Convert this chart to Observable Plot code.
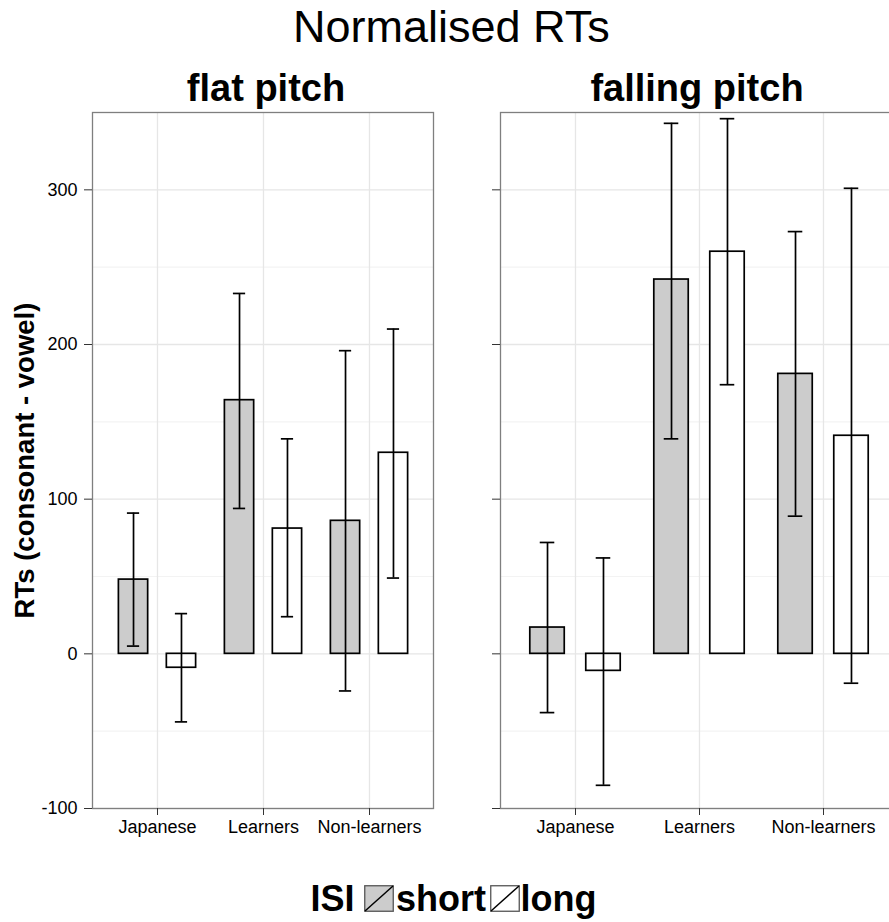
<!DOCTYPE html>
<html>
<head>
<meta charset="utf-8">
<script src="https://cdn.jsdelivr.net/npm/d3@7"></script>
<script src="https://cdn.jsdelivr.net/npm/@observablehq/plot@0.6"></script>
<style>
  html, body { margin: 0; padding: 0; overflow: hidden; background: #fff; }
  body { position: relative; width: 889px; height: 922px; font-family: "Liberation Sans", Arial, Helvetica, sans-serif; color: #000; }
  .abs { position: absolute; white-space: nowrap; }
  #title { top: 4.2px; left: 293px; font-size: 45px; line-height: 45px; }
  .facet { top: 68.8px; font-size: 38px; line-height: 38px; font-weight: bold; transform: translateX(-50%); }
  .leg { top: 880.5px; font-size: 36px; line-height: 36px; font-weight: bold; }
  #left { left: 0; top: 100px; }
  #right { left: 444px; top: 100px; }
</style>
</head>
<body>
<div id="title" class="abs">Normalised RTs</div>
<div id="left" class="abs"></div>
<div id="right" class="abs"></div>
<div id="facet1" class="abs facet" style="left:266px"></div>
<div id="facet2" class="abs facet" style="left:697px"></div>
<div id="legend"></div>
<script>
// ---- data ----
const groups = ["Japanese", "Learners", "Non-learners"];
const panelTitles = ["flat pitch", "falling pitch"];
const isiLevels = ["short", "long"];
const isiFill = ["#cccccc", "#ffffff"];
const legendTitle = "ISI";
const yTitle = "RTs (consonant - vowel)";

const flatShortMean  = [48, 164, 86];
const flatShortLower = [5, 94, -24];
const flatShortUpper = [91, 233, 196];
const flatLongMean   = [-9, 81, 130];
const flatLongLower  = [-44, 24, 49];
const flatLongUpper  = [26, 139, 210];

const fallShortMean  = [17, 242, 181];
const fallShortLower = [-38, 139, 89];
const fallShortUpper = [72, 343, 273];
const fallLongMean   = [-11, 260, 141];
const fallLongLower  = [-85, 174, -19];
const fallLongUpper  = [62, 346, 301];

const yTicks = [-100, 0, 100, 200, 300];
const yMinorTicks = [-50, 50, 150, 250];
const yDomain = [-100, 350];

function rows(mean, lower, upper, isi) {
  return groups.map((g, i) => ({group: g, isi, mean: mean[i], lower: lower[i], upper: upper[i]}));
}

const flatData = [
  rows(flatShortMean, flatShortLower, flatShortUpper, isiLevels[0]),
  rows(flatLongMean, flatLongLower, flatLongUpper, isiLevels[1])
];
const fallData = [
  rows(fallShortMean, fallShortLower, fallShortUpper, isiLevels[0]),
  rows(fallLongMean, fallLongLower, fallLongUpper, isiLevels[1])
];

const FONT = "'Liberation Sans', Arial, Helvetica, sans-serif";

function panel(data, {width, marginLeft, marginRight, labels}) {
  const height = 745, marginTop = 12, marginBottom = 37;
  const step = (width - marginLeft - marginRight) / 3.2;
  const off = [-0.225, 0.225], bw = 0.28, cap = 0.12;
  const marks = [
    Plot.gridY(yMinorTicks, {stroke: "#f3f3f3", strokeOpacity: 1, strokeWidth: 1.2}),
    Plot.gridY(yTicks, {stroke: "#e6e6e6", strokeOpacity: 1, strokeWidth: 1.3}),
    Plot.gridX(groups, {stroke: "#e6e6e6", strokeOpacity: 1, strokeWidth: 1.3})
  ];
  data.forEach((d, k) => {
    const o = off[k];
    marks.push(Plot.barY(d, {
      x: "group", y1: 0, y2: "mean", fill: isiFill[k], stroke: "#000", strokeWidth: 1.7,
      insetLeft: (0.5 + o - bw / 2) * step, insetRight: (0.5 - o - bw / 2) * step
    }));
  });
  data.forEach((d, k) => {
    const o = off[k];
    marks.push(Plot.ruleX(d, {x: "group", y1: "lower", y2: "upper", dx: o * step, stroke: "#000", strokeWidth: 1.7}));
    marks.push(Plot.tickY(d, {x: "group", y: "upper", stroke: "#000", strokeWidth: 1.7,
      insetLeft: (0.5 + o - cap / 2) * step, insetRight: (0.5 - o - cap / 2) * step}));
    marks.push(Plot.tickY(d, {x: "group", y: "lower", stroke: "#000", strokeWidth: 1.7,
      insetLeft: (0.5 + o - cap / 2) * step, insetRight: (0.5 - o - cap / 2) * step}));
  });
  marks.push(Plot.frame({stroke: "#7f7f7f", strokeWidth: 1.3}));
  if (labels) {
    marks.push(Plot.axisY(yTicks, {tickSize: 8, tickPadding: 7, fontSize: 18, stroke: "#333", fill: "#000", tickFormat: d => String(d)}));
    marks.push(Plot.text([yTitle], {frameAnchor: "left", textAnchor: "middle", rotate: -90, dx: -67, fontSize: 27.5, fontWeight: "bold", fill: "#000"}));
  } else {
    marks.push(Plot.axisY(yTicks, {tickSize: 8, stroke: "#333", tickFormat: () => ""}));
  }
  marks.push(Plot.axisX({tickSize: 7, tickPadding: 5, fontSize: 18, stroke: "#333", fill: "#000"}));
  return Plot.plot({
    width, height, marginLeft, marginRight, marginTop, marginBottom,
    style: {fontFamily: FONT, fontSize: "18px", color: "#000", background: "white", overflow: "visible", maxWidth: "none"},
    x: {type: "band", domain: groups, paddingInner: 0, paddingOuter: 0.1, label: null},
    y: {domain: yDomain, label: null},
    marks
  });
}

document.getElementById("left").appendChild(panel(flatData, {width: 444, marginLeft: 92, marginRight: 11, labels: true}));
document.getElementById("right").appendChild(panel(fallData, {width: 454, marginLeft: 56, marginRight: 0, labels: false}));
document.getElementById("facet1").textContent = panelTitles[0];
document.getElementById("facet2").textContent = panelTitles[1];

// ---- legend ----
const legend = document.getElementById("legend");
function addText(txt, left) {
  const s = document.createElement("div");
  s.className = "abs leg";
  s.style.left = left + "px";
  s.textContent = txt;
  legend.appendChild(s);
}
function addKey(fill, left) {
  const ns = "http://www.w3.org/2000/svg";
  const svg = document.createElementNS(ns, "svg");
  svg.setAttribute("width", 30); svg.setAttribute("height", 27);
  svg.setAttribute("class", "abs");
  svg.style.left = left + "px"; svg.style.top = "885px";
  const r = document.createElementNS(ns, "rect");
  r.setAttribute("x", 0.75); r.setAttribute("y", 0.75); r.setAttribute("width", 28.5); r.setAttribute("height", 25.5);
  r.setAttribute("fill", fill); r.setAttribute("stroke", "#555"); r.setAttribute("stroke-width", 1.3);
  const l = document.createElementNS(ns, "line");
  l.setAttribute("x1", 1); l.setAttribute("y1", 26); l.setAttribute("x2", 29); l.setAttribute("y2", 1);
  l.setAttribute("stroke", "#000"); l.setAttribute("stroke-width", 1.5);
  svg.appendChild(r); svg.appendChild(l);
  legend.appendChild(svg);
}
addText(legendTitle, 310.5);
addKey(isiFill[0], 363.5);
addText(isiLevels[0], 396);
addKey(isiFill[1], 489.5);
addText(isiLevels[1], 520.5);
</script>
</body>
</html>
